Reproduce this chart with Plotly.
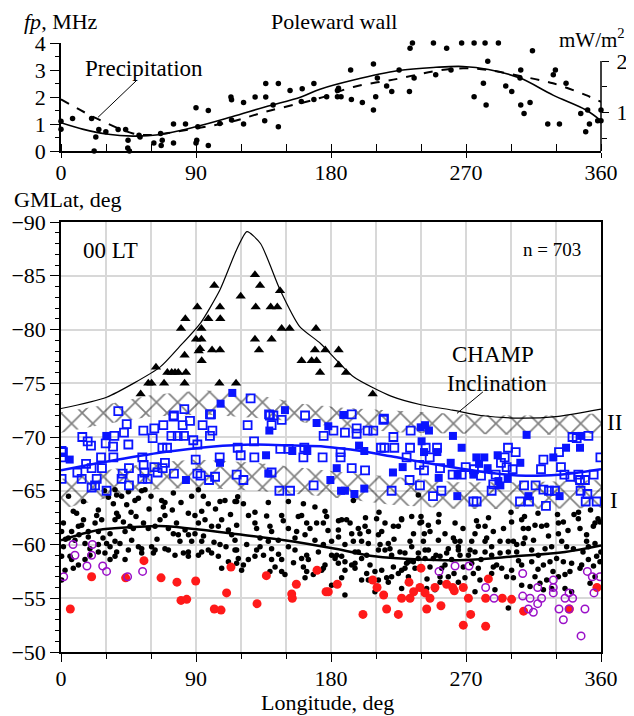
import plotly.graph_objects as go

# ---------------- DATA ----------------
# Top panel: fp (MHz) points vs longitude
top_pts = [(0,1.1),(0,0.81),(7.7,1.2),(20.4,1.2),(22.1,0.0),(23.2,0.52),(25.2,0.8),(29.9,0.71),(38.1,0.8),(43.1,0.8),
           (44.7,0.4),(44.5,0.11),(45.6,0.0),(52,0.58),(52.7,0.52),(61.9,0.3),(66.4,0.65),(66.8,0.2),(67.5,0.4),(75,0.3),
           (75,1.0),(83,1.0),(90,1.6),(90,0.3),(90.5,0.4),(91.2,0.9),(98.2,1.5),(98.2,0.2),(105.9,1.02),(113.3,2.0),
           (113.7,1.9),(113.7,1.15),(121.7,1.8),(121.7,1.0),(129.4,2.0),(136.5,2.5),(136.5,2.0),(135.8,1.12),(141.4,1.7),
           (144.9,2.5),(144.9,0.9),(152.7,2.24),(160.8,2.31),(160.2,1.83),(168.6,2.5),(168.6,1.91),(177.1,2.01),(184.3,2.01),
           (186.7,2.01),(184.3,2.24),(185,2.32),(193.1,3.0),(193.6,1.91),(200.9,1.8),(208.3,3.22),(208.3,1.52),(209.8,2.01),
           (210.9,2.7),(217.1,2.41),(220.5,2.2),(225.4,3.0),(232.3,2.2),(232.7,3.81),(234.3,4.0),(235.4,2.7),(248.3,4.0),
           (249.8,2.82),(257.1,3.81),(258.9,4.52),(260,3.0),(267.1,4.0),(275.4,4.0),(275.4,2.01),(281.6,2.51),(282.7,4.0),
           (283.4,1.7),(284.9,4.41),(284.5,3.32),(291.6,4.0),(296.5,2.41),(300.5,2.2),(306.5,3.0),(306,2.7),(306.5,1.7),
           (308.7,1.39),(312.7,1.8),(314.3,3.71),(324.5,1.0),(328.2,2.82),(329.6,3.0),(332.3,1.0),(336.7,2.51),(346.5,1.39),
           (349.8,0.71),(351.1,1.52),(352.3,1.0),(357.8,1.12),(360,1.12),(360,1.52)]
fp_fit_lon = [0, 15, 30, 48, 65, 90, 114, 136.5, 160, 172.7, 195, 225, 250, 268, 285, 306, 328, 350, 360]
fp_fit_val = [1.05, 0.8, 0.63, 0.55, 0.6, 0.9, 1.27, 1.64, 2.0, 2.29, 2.63, 2.98, 3.1, 3.13, 3.02, 2.7, 2.07, 1.52, 1.12]
prec_lon = [0, 23.7, 48, 59, 90, 114, 136.5, 172, 195, 225, 250, 268, 284, 306, 328, 350, 360]
prec_val = [1.26, 0.89, 0.6, 0.57, 0.7, 0.83, 1.02, 1.28, 1.5, 1.66, 1.81, 1.86, 1.83, 1.71, 1.57, 1.34, 1.21]

# Bottom panel
champ_lon = [0, 30.4, 66, 79, 93, 106, 117, 124, 133, 146, 159, 173, 195, 220, 240, 261, 280, 306, 330, 360]
champ_lat = [-72.65, -73.7, -76.5, -78.4, -80.6, -83.7, -87.4, -89.1, -88.0, -83.7, -80.3, -78.7, -75.6, -73.8, -73.0, -72.5, -72.0, -71.75, -71.9, -72.6]
blue_fit_lon = [0, 30, 69, 100, 129, 155, 176, 200, 220, 243, 265, 290, 310, 332, 345, 360]
blue_fit_lat = [-66.9, -67.7, -68.6, -69.1, -69.3, -69.2, -69.1, -68.7, -68.2, -67.6, -67.1, -66.6, -66.4, -66.5, -66.7, -67.0]
black_fit_lon = [0, 25, 45, 60, 70, 92, 118, 149, 183, 209, 239, 269, 303, 336, 360]
black_fit_lat = [-60.4, -61.35, -61.6, -61.7, -61.7, -61.4, -60.95, -60.4, -59.6, -58.9, -58.6, -58.55, -58.9, -59.3, -59.9]

bandII_lon = [0, 30, 60, 95, 128, 160, 190, 230, 270, 300, 330, 360]
bandII_top = [-72.3, -73.0, -73.9, -74.35, -74.0, -73.1, -72.7, -72.4, -72.1, -72.0, -72.0, -72.2]
bandII_bot = [-70.4, -71.2, -71.9, -72.1, -71.8, -71.4, -70.8, -70.4, -70.3, -70.2, -70.2, -70.3]
bandI_lon = [0, 30, 60, 90, 130, 175, 220, 265, 310, 360]
bandI_top = [-66.1, -66.9, -67.6, -67.9, -67.6, -66.9, -66.3, -65.8, -65.8, -66.0]
bandI_bot = [-63.3, -64.3, -65.1, -65.3, -65.0, -64.5, -63.7, -63.3, -63.3, -63.4]

triangles = [(129.3,-85.1),(132.7,-84.1),(119.8,-83.1),(146,-83.6),(102.2,-84.1),(90.9,-82.1),(106,-82.1),(129.8,-82.1),
             (139.8,-82.1),(144.2,-82.1),(82.9,-81.0),(98.2,-81.0),(106.2,-81.0),(80,-80.1),(93.6,-80.1),(147.1,-80.1),
             (152.4,-80.1),(170,-80.1),(90,-79.1),(93.6,-79.1),(129.3,-79.1),(140.4,-79.1),(92.7,-78.2),(91.8,-78.0),
             (100.7,-78.1),(106,-78.1),(132,-78.1),(169.3,-78.1),(176.2,-78.1),(185.1,-78.1),(82.4,-77.6),(93.8,-77.1),
             (160.4,-77.1),(167.1,-77.1),(170.4,-77.1),(185.1,-76.7),(63.3,-76.5),(70.9,-76.0),(73.8,-76.0),(76,-76.0),
             (78.2,-76.0),(83.3,-76.0),(172.7,-76.0),(190,-76.0),(58.2,-75.0),(60.4,-75.0),(68.7,-75.0),(82.4,-75.0),
             (105.6,-75.0),(116.7,-75.0),(53.1,-74.0),(207.8,-74.0)]

open_squares = [(38.2,-72.4),(82.2,-72.6),(74.9,-71.9),(86,-71.5),(43.8,-71.2),(81.1,-71.1),(94.4,-71.1),(100,-72.1),
    (68.2,-71.1),(62.2,-70.8),(54.9,-70.6),(42,-70.4),(35.6,-70.1),(100.9,-70.6),(73.6,-70.1),(77.8,-70.1),(82,-70.1),
    (61.1,-69.9),(14.2,-70.0),(17.8,-69.6),(20,-69.2),(29.8,-69.4),(34.7,-69.1),(44.9,-69.3),(88.2,-69.7),(99.3,-70.1),
    (128.7,-69.6),(117.8,-69.0),(67.6,-69.0),(70.7,-69.0),(90.9,-69.3),(1.3,-68.6),(0.4,-68.1),(26.7,-68.1),(34.9,-68.1),
    (54.2,-68.1),(55.1,-67.4),(69.3,-67.6),(105.8,-68.1),(119.8,-68.3),(128.9,-68.1),(146.2,-68.9),(151.8,-68.9),
    (161.6,-68.1),(162.2,-69.0),(174.4,-68.1),(175.1,-70.1),(124.4,-71.1),(140.4,-71.1),(139.3,-72.0),(141.6,-72.0),
    (147.1,-71.6),(162.7,-72.0),(16.7,-67.5),(10.9,-66.7),(20.4,-67.1),(27.3,-67.1),(45.3,-67.1),(62.2,-67.2),
    (64.4,-66.7),(67.8,-67.1),(75.3,-66.6),(90.9,-66.6),(89.8,-67.9),(93.1,-66.4),(98.7,-66.0),(102.7,-66.3),
    (117.1,-66.5),(121.6,-66.0),(140.4,-66.7),(168.4,-65.5),(152.7,-65.0),(145.6,-65.0),(0.4,-66.1),(13.8,-66.1),
    (23.8,-66.1),(20.4,-65.3),(22.7,-65.5),(30.4,-65.0),(40.4,-66.1),(45.3,-65.5),(54.2,-66.1),(57.8,-66.1),
    (55.6,-66.7),(41.1,-66.6),(126.4,-73.6),(75.3,-72.0),(99.3,-72.1),(138.7,-72.1),(193.8,-72.1),(215.3,-71.7),
    (181.6,-70.6),(189.3,-70.4),(197.1,-70.8),(197.1,-70.3),(204.4,-70.6),(208.2,-70.6),(214.9,-71.6),(221.6,-70.0),
    (233.1,-70.6),(213.3,-69.0),(215.6,-69.0),(222.2,-69.0),(232.7,-69.0),(243.1,-69.0),(250.7,-69.0),(245.8,-68.1),
    (230.4,-68.1),(238.9,-67.4),(242,-66.9),(252.7,-67.1),(186.4,-68.6),(186.4,-68.1),(193.8,-67.1),(202.7,-66.9),
    (232.4,-66.0),(239.3,-65.5),(220.4,-65.0),(248,-64.5),(253.6,-65.0),(269.8,-67.2),(275.3,-67.0),(280,-66.4),
    (261.1,-66.5),(267.1,-66.5),(289.8,-66.5),(293.3,-67.6),(295.8,-68.1),(298,-69.0),(303.1,-68.6),(297.1,-67.2),
    (301.1,-67.0),(288.2,-65.6),(287.1,-65.0),(308.7,-65.5),(316.4,-65.5),(321.6,-67.9),(320,-67.0),(321.6,-65.1),
    (325.3,-65.0),(329.3,-65.0),(333.3,-67.2),(332,-68.6),(335.6,-66.5),(339.6,-66.3),(344.9,-66.5),(346,-66.0),
    (349.3,-66.0),(355.1,-66.5),(359.6,-68.1),(343.8,-69.9),(351.6,-70.1),(346.4,-65.0),(350.9,-64.7),(349.8,-64.0),
    (357.1,-64.0),(274.9,-64.0),(277.1,-64.0),(306,-64.0),(312,-64.0),(323.3,-63.6),(341,-70.0),(0.4,-68.7)]

filled_squares = [(30.2,-70.1),(5.8,-67.9),(106.4,-73.1),(149.3,-72.5),(170.4,-71.3),(178.2,-71.0),(138.9,-70.6),
    (136.7,-68.3),(106,-67.6),(154.2,-68.7),(164.2,-68.7),(83.3,-66.0),(138.2,-66.6),(179.6,-66.0),(114.2,-74.1),
    (188.2,-72.05),(239.8,-70.9),(242.7,-71.1),(245.3,-70.6),(261.3,-70.1),(240.4,-69.6),(242,-68.6),(250.9,-68.6),
    (267.1,-69.0),(198.7,-69.2),(202.2,-68.7),(183.8,-67.1),(221.3,-66.7),(227.8,-67.2),(259.8,-67.6),(276.9,-68.1),
    (282.2,-68.1),(278.7,-67.5),(274.9,-66.5),(264.4,-66.5),(284.4,-67.1),(291.1,-68.3),(297.8,-66.1),(291.6,-65.9),
    (292.9,-65.5),(306.2,-67.6),(251.8,-66.2),(186.7,-65.0),(189.3,-65.0),(195.6,-64.7),(202.2,-65.2),(264.2,-64.5),
    (311.6,-64.5),(332.4,-64.5),(328.2,-68.1),(336.7,-69.0),(346,-69.0),(346.7,-70.1),(310.4,-70.2)]

black_dots = [
    (36,-65.1),(37.1,-64.6),(31.6,-64.4),(40.4,-64.5),(44.9,-64.9),(53.8,-65.0),(56,-65.1),(51.6,-64.3),(43.8,-63.7),
    (46.7,-63.0),(34.9,-63.8),(24.9,-63.2),(23.8,-62.7),(22.7,-62.0),(27.1,-62.3),(36,-62.3),(41.6,-62.1),(37.1,-62.9),
    (38.2,-62.6),(49.3,-64.1),(67.1,-64.1),(68.2,-63.5),(69.3,-63.9),(74.9,-64.8),(87.1,-64.5),(91.6,-65.1),(94.9,-64.5),
    (98.2,-63.8),(106,-64.0),(109.3,-64.1),(116,-64.0),(117.8,-64.45),(58.7,-63.3),(69.3,-62.7),(74.2,-63.2),(84.9,-62.9),
    (89.3,-62.7),(93.8,-63.1),(1.6,-62.0),(8.2,-63.1),(10.4,-62.9),(11.6,-61.7),(13.8,-61.8),(0.4,-61.2),(7.1,-61.2),
    (18.2,-61.2),(18.2,-60.7),(24.9,-61.2),(32.7,-61.0),(42.7,-61.2),(46,-61.7),(48.2,-61.5),(58.2,-61.5),(62.7,-61.7),
    (71.6,-61.5),(74.9,-61.0),(78.2,-60.9),(82.7,-61.35),(89.3,-61.0),(91.6,-62.0),(96,-62.3),(100.4,-61.7),(104.9,-61.7),
    (107.1,-62.3),(111.6,-61.35),(113.8,-60.9),(116,-60.4),(106,-60.0),(93.8,-60.3),(87.1,-60.3),(79.3,-60.3),(69.3,-59.6),
    (62.7,-59.5),(60.4,-59.8),(53.8,-59.6),(47.1,-60.4),(36,-60.3),(32.7,-59.8),(39.3,-60.1),(30.4,-60.1),(24.9,-60.0),
    (19.3,-59.6),(16,-60.1),(9.3,-60.4),(4.9,-60.6),(0.4,-58.9),(6,-58.9),(7.1,-58.6),(8.2,-57.8),(11.6,-58.1),(16,-58.6),
    (19.3,-59.0),(24.9,-59.3),(29.3,-59.2),(37.1,-59.3),(44.9,-59.5),(53.8,-59.2),(61.6,-59.2),(76,-59.0),(81.6,-59.2),
    (84.9,-58.9),(91.6,-59.0),(93.8,-59.3),(98.2,-59.5),(100.4,-59.2),(104.9,-58.9),(107.1,-57.8),(111.6,-58.4),
    (116,-59.5),(117.1,-58.25),(84.9,-59.3),(36,-58.9),(71.6,-59.5),(51.6,-59.8),(42.7,-58.6),(32.7,-58.6),(2.7,-57.6),
    (0.4,-56.7),(1.6,-59.8),
    (117.1,-64.0),(121.6,-63.8),(138.2,-63.9),(129.3,-63.0),(137.1,-62.65),(147.1,-62.7),(151.6,-64.0),(160.4,-62.7),
    (161.6,-63.8),(169.3,-63.5),(176,-63.1),(170.4,-62.0),(174.9,-62.0),(163.8,-62.0),(148.2,-62.2),(139.3,-61.7),
    (140.4,-61.2),(129.3,-62.0),(130.4,-61.5),(117.1,-61.8),(123.8,-60.0),(117.1,-59.5),(118.2,-58.7),(124.9,-58.6),
    (121.6,-58.1),(120.4,-57.6),(129.3,-58.9),(130.4,-59.5),(132.7,-60.6),(132.7,-59.8),(138.2,-60.3),(140.4,-59.6),
    (144.9,-60.4),(151.6,-59.8),(151.6,-61.5),(157.1,-61.2),(156,-60.6),(162.7,-60.9),(169.3,-60.4),(163.8,-59.0),
    (164.9,-58.6),(161.6,-57.9),(171.6,-59.3),(174.9,-60.0),(180.4,-60.3),(184.9,-61.35),(187.1,-62.3),(192.7,-62.0),
    (193.8,-61.0),(198.2,-61.5),(199.3,-61.0),(200.4,-60.3),(202.7,-61.7),(204.9,-60.1),(194.9,-60.3),(189.3,-60.0),
    (184.9,-58.25),(189.3,-58.4),(187.1,-58.9),(193.8,-58.1),(196,-57.8),(183.8,-59.0),(176,-58.1),(173.8,-57.6),
    (180.4,-59.0),(140.4,-58.6),(142.7,-57.9),(139.3,-57.5),(147.1,-57.5),(149.3,-57.2),(147.1,-58.6),(160.4,-58.7),
    (156,-59.5),(163.8,-57.5),(162.7,-56.9),(168.2,-57.2),(174.9,-57.8),(182.7,-58.7),(189.3,-57.6),(187.1,-56.9),
    (189.3,-55.3),(180.4,-56.2),(196,-58.25),(198.2,-59.3),(203.8,-59.0),(211.6,-59.5),(216,-59.5),(219.3,-59.6),
    (220.4,-59.0),(226,-59.3),(229.3,-59.2),(218.2,-60.1),(212.7,-60.0),(210.4,-62.4),(216,-62.0),(221.6,-61.7),
    (224.9,-61.7),(227.1,-62.3),(232.7,-60.3),(233.8,-59.8),(231.6,-58.4),(229.3,-57.8),(234.9,-58.4),(236,-57.8),
    (238.2,-59.2),(221.6,-57.9),(224.9,-57.3),(227.1,-57.6),(217.1,-56.9),(218.2,-56.5),(220.4,-57.0),(200.4,-56.7),
    (204.9,-56.7),(209.3,-55.6),(216,-55.3),(213.8,-57.6),(206,-58.1),(209.3,-57.5),(203.8,-57.3),(211.6,-56.7),
    (227.1,-55.9),(230.4,-58.25),(231.6,-57.0),(239.3,-62.0),(233.8,-62.6),(238.2,-64.6),(190.4,-62.3),(194.9,-64.1),
    (200.4,-58.7),(213.8,-61.2),(211.6,-60.9),(158.2,-62.6),
    (240.4,-62.1),(244.9,-61.8),(251.6,-62.1),(262.7,-62.0),(246,-61.2),(242.2,-61.0),(241.6,-60.3),(242.7,-59.5),
    (244.9,-59.5),(251.6,-60.4),(258.2,-59.6),(257.1,-59.2),(261.6,-60.6),(262.7,-60.3),(266,-60.3),(264.9,-59.5),
    (273.8,-60.3),(276,-61.0),(278.2,-61.7),(282.7,-61.7),(288.2,-61.2),(283.8,-60.6),(282.7,-60.3),(287.1,-59.8),
    (292.7,-60.3),(298.2,-60.3),(301.6,-60.3),(300.4,-62.1),(308.2,-61.5),(307.1,-62.3),(311.6,-61.5),(316,-61.8),
    (320.4,-61.7),(323.8,-61.8),(331.6,-62.0),(334.9,-62.1),(344.9,-62.4),(346,-61.5),(350.4,-60.9),(356,-62.0),
    (354.9,-61.7),(359.3,-62.1),(350.4,-60.3),(351.6,-59.8),(356,-60.1),(341.6,-59.6),(337.1,-59.8),(333.8,-60.3),
    (331.6,-61.0),(327.1,-59.8),(322.7,-59.6),(318.2,-59.0),(313.8,-59.5),(308.2,-60.1),(303.8,-60.0),(309.3,-60.6),
    (303.8,-59.3),(298.2,-59.3),(292.7,-59.2),(287.1,-59.0),(282.7,-59.3),(276,-59.3),(271.6,-59.0),(266,-59.0),
    (260.4,-58.6),(252.7,-58.9),(248.2,-58.7),(242.7,-58.7),(238.2,-58.7),(239.3,-57.8),(246,-57.9),(253.8,-57.8),
    (258.2,-57.0),(256,-58.1),(268.2,-57.9),(273.8,-58.25),(278.2,-57.8),(274.9,-57.3),(269.3,-56.9),(279.3,-56.7),
    (287.1,-57.3),(290.4,-58.1),(293.8,-57.8),(300.4,-57.6),(301.6,-56.9),(297.1,-57.0),(307.1,-58.1),(313.8,-58.4),
    (321.6,-58.1),(326,-58.4),(330.4,-58.7),(334.9,-58.4),(340.4,-58.25),(347.1,-58.1),(351.6,-58.6),(357.1,-58.9),
    (359.3,-58.4),(359.9,-59.3),(346,-57.8),(339.3,-57.5),(331.6,-57.0),(323.8,-56.7),(319.3,-56.4),(312.7,-56.1),
    (316,-57.0),(327.1,-55.9),(336,-55.9),(340.4,-55.6),(321.6,-55.8),(307.1,-56.2),(289.3,-55.8),(276,-55.6),
    (264.9,-56.5),(252.7,-56.5),(249.3,-55.8),(243.8,-55.9),(352.7,-56.4),(356,-57.0),(298.2,-54.1),(264.9,-59.8),
    (272.7,-59.5),(288.2,-57.9),(252.7,-57.0),
    (177.1,-62.6),(185,-62.2),(203,-62.5),(212,-63.0),(227,-62.4),(240,-62.6),(252,-62.8),(277,-62.2),(300,-63.0),
    (309,-62.6),(331,-62.8),(345,-63.0),(358,-62.4),(3,-60.5),(12,-60.9),(15,-62.3),(28,-60.6),(50,-62.6),(55,-62.0),
    (64,-60.5),(66,-62.3),(77,-62.0),(85,-60.9),(95,-60.8),(102,-60.2),(110,-59.8),(113,-62.8),(103,-63.3),(60,-64.5),
    (80,-63.9),(29,-65.0),(15,-64.0),(5,-64.5),(125,-62.7),(135,-59.0),(145,-59.1),(155,-58.3),(166,-61.5),(178,-61.3),
    (185,-60.7),(196,-59.3),(205,-61.2),(222,-60.5),(235,-61.0),(250,-59.0),(256,-61.0),(268,-61.5),(280,-58.6),
    (285,-62.5),(295,-61.5),(305,-58.5),(315,-60.4),(318,-62.9),(325,-60.8),(338,-61.3),(342,-62.8),(348,-59.3),
    (353,-63.2),(355,-58.0),(336,-57.2),(328,-57.5),(318,-57.7),(262,-57.3),(244,-56.8)]

red_circles = [(55.3,-58.5),(20.4,-57.0),(43.1,-56.9),(66.7,-56.9),(77.3,-56.5),(89.8,-56.6),(80,-54.8),(83.8,-54.9),
    (110.4,-55.5),(113.3,-57.9),(6.2,-54.0),(102.2,-54.0),(106.7,-53.9),(136.9,-57.1),(170.7,-57.6),(156.9,-56.3),
    (153.8,-55.4),(154.2,-55.0),(176.7,-55.6),(178.2,-55.6),(184.2,-56.3),(207.8,-56.7),(210.7,-56.0),(215.1,-55.3),
    (232,-56.5),(235.1,-55.6),(232.7,-55.0),(227.1,-55.0),(239.3,-56.0),(240,-57.8),(130.7,-54.5),(201.3,-53.5),
    (217.1,-54.0),(224.9,-53.5),(242.7,-55.5),(246,-55.0),(249.3,-56.0),(257.1,-56.3),(261.1,-56.0),(262.2,-55.7),
    (268.2,-56.0),(271.6,-55.0),(243.8,-54.0),(253.3,-54.3),(284.9,-56.8),(283.1,-55.0),(294.2,-55.0),(300.4,-54.9),
    (273.1,-53.5),(268.2,-52.5),(283.1,-52.4),(308.4,-53.8),(338.9,-54.0),(357.3,-56.0)]

purple_circles = [(8,-60.0),(20.9,-60.0),(9.3,-59.0),(20.4,-59.0),(17.3,-58.0),(27.8,-58.0),(30.4,-57.5),(1.8,-57.0),
    (44.4,-57.0),(54.4,-57.5),(252,-57.5),(262.7,-58.0),(272,-58.0),(283.1,-56.0),(288.7,-55.0),(307.8,-57.3),
    (307.8,-55.2),(312.7,-55.0),(317.8,-56.0),(320.4,-55.0),(317.8,-54.5),(311.6,-54.0),(314.9,-53.7),(328.2,-56.7),
    (328.2,-56.0),(328.2,-55.5),(332,-54.0),(334.9,-53.0),(338.7,-55.5),(341.1,-55.0),(336,-55.0),(349.3,-54.0),
    (338.7,-54.0),(346.7,-51.5),(350.9,-57.5),(354.2,-57.0),(359.3,-57.0),(355.3,-55.5)]

lon_ticks = [0, 90, 180, 270, 360]

# ---------------- FIGURE ----------------
# The page body has an 8 px margin, so the figure is sized and positioned to compensate.
OFF = 8
W, H = 634 - OFF, 716 - OFF
FONT = "Liberation Serif"

def fx(p):
    return (p - OFF) / W

def fy(p):
    return 1 - (p - OFF) / H

xdom = [fx(61), fx(601)]
top_dom = [fy(151), fy(43)]
bot_dom = [fy(652), fy(222)]

def unzip(pts):
    return [p[0] for p in pts], [p[1] for p in pts]

fig = go.Figure()

# hatched bands
for lon, top, bot in [(bandII_lon, bandII_top, bandII_bot), (bandI_lon, bandI_top, bandI_bot)]:
    fig.add_trace(go.Scatter(
        x=lon + lon[::-1], y=top + bot[::-1], xaxis="x2", yaxis="y2",
        fill="toself", mode="lines", line=dict(width=0), fillcolor="rgba(0,0,0,0)",
        fillpattern=dict(shape="x", size=15, solidity=0.21, fgcolor="black", bgcolor="rgba(0,0,0,0)"),
        hoverinfo="skip", showlegend=False))

# top panel
tx, ty = unzip(top_pts)
fig.add_trace(go.Scatter(x=tx, y=ty, mode="markers", xaxis="x", yaxis="y", cliponaxis=False,
                         marker=dict(size=5.5, color="black"), showlegend=False))
fig.add_trace(go.Scatter(x=fp_fit_lon, y=fp_fit_val, mode="lines", xaxis="x", yaxis="y",
                         line=dict(color="black", width=1.6, shape="spline"), showlegend=False))
fig.add_trace(go.Scatter(x=prec_lon, y=prec_val, mode="lines", xaxis="x", yaxis="y3",
                         line=dict(color="black", width=2, dash="dash", shape="spline"), showlegend=False))

# bottom panel points
bx, by = unzip(black_dots)
fig.add_trace(go.Scatter(x=bx, y=by, mode="markers", xaxis="x2", yaxis="y2",
                         marker=dict(size=5.5, color="black"), showlegend=False))
rx, ry = unzip(red_circles)
fig.add_trace(go.Scatter(x=rx, y=ry, mode="markers", xaxis="x2", yaxis="y2",
                         marker=dict(size=9, color="#ff1a1a"), showlegend=False))
px_, py_ = unzip(purple_circles)
fig.add_trace(go.Scatter(x=px_, y=py_, mode="markers", xaxis="x2", yaxis="y2",
                         marker=dict(size=7.5, symbol="circle-open", color="#9a10c8", line=dict(width=1.5)), showlegend=False))
ox, oy = unzip(open_squares)
fig.add_trace(go.Scatter(x=ox, y=oy, mode="markers", xaxis="x2", yaxis="y2",
                         marker=dict(size=8, symbol="square-open", color="#0a14ff", line=dict(width=1.8)), showlegend=False))
fqx, fqy = unzip(filled_squares)
fig.add_trace(go.Scatter(x=fqx, y=fqy, mode="markers", xaxis="x2", yaxis="y2",
                         marker=dict(size=8, symbol="square", color="#0a14ff"), showlegend=False))
trx, tr_y = unzip(triangles)
fig.add_trace(go.Scatter(x=trx, y=tr_y, mode="markers", xaxis="x2", yaxis="y2",
                         marker=dict(size=9, symbol="triangle-up", color="black"), showlegend=False))

# curves
fig.add_trace(go.Scatter(x=champ_lon, y=champ_lat, mode="lines", xaxis="x2", yaxis="y2",
                         line=dict(color="black", width=1.2, shape="spline", smoothing=0.6), showlegend=False))
fig.add_trace(go.Scatter(x=blue_fit_lon, y=blue_fit_lat, mode="lines", xaxis="x2", yaxis="y2",
                         line=dict(color="#0a14ff", width=2.5, shape="spline"), showlegend=False))
fig.add_trace(go.Scatter(x=black_fit_lon, y=black_fit_lat, mode="lines", xaxis="x2", yaxis="y2",
                         line=dict(color="black", width=2.5, shape="spline"), showlegend=False))

tickfont = dict(family=FONT, size=22, color="black")
axis_common = dict(showline=True, linecolor="black", linewidth=1.5, zeroline=False, tickcolor="black",
                   tickfont=tickfont, automargin=False)

fig.update_layout(
    width=W, height=H, autosize=False,
    margin=dict(l=0, r=0, t=0, b=0),
    paper_bgcolor="white", plot_bgcolor="white",
    font=dict(family=FONT, color="black"),
    xaxis=dict(domain=xdom, anchor="y", range=[0, 360], tickmode="array", tickvals=lon_ticks,
               ticks="outside", ticklen=5, showgrid=False, ticklabelstandoff=-4,
               minor=dict(tickmode="linear", tick0=0, dtick=30, ticks="inside", ticklen=7, tickcolor="black"),
               **axis_common),
    yaxis=dict(domain=top_dom, anchor="x", range=[0, 4], dtick=1, ticks="outside", ticklen=9, showgrid=False,
               minor=dict(dtick=0.5, ticks="outside", ticklen=4, tickcolor="black"), **axis_common),
    yaxis3=dict(overlaying="y", side="right", anchor="x", range=[0.26, 2.35], tickmode="array", tickvals=[1, 2],
                ticks="outside", ticklen=7, showgrid=False, showline=False, zeroline=False, tickcolor="black",
                tickfont=tickfont, automargin=False, ticklabelstandoff=3,
                minor=dict(tickmode="array", tickvals=[0.5, 1.5], ticks="outside", ticklen=5, tickcolor="black")),
    xaxis2=dict(domain=xdom, anchor="y2", range=[0, 360], tickmode="array", tickvals=lon_ticks,
                ticks="outside", ticklen=8, showgrid=True, gridcolor="#d8d8d8", gridwidth=1.5, mirror=True,
                ticklabelstandoff=-2,
                minor=dict(tickmode="linear", tick0=0, dtick=30, ticks="outside", ticklen=5, tickcolor="black",
                           showgrid=True, gridcolor="#d8d8d8", gridwidth=1.5),
                **axis_common),
    yaxis2=dict(domain=bot_dom, anchor="x2", range=[-50, -90], dtick=5, tick0=-90, ticks="outside", ticklen=9,
                showgrid=True, gridcolor="#d8d8d8", gridwidth=1.5, mirror=True,
                minor=dict(dtick=1, ticks="outside", ticklen=4, tickcolor="black", showgrid=False),
                **axis_common),
)

# right axis line (drawn from bottom to value 2)
fig.add_shape(type="line", xref="paper", yref="y3", x0=xdom[1], x1=xdom[1], y0=0.26, y1=2.0,
              line=dict(color="black", width=1.5))
# leader lines
fig.add_shape(type="line", xref="x", yref="y", x0=50.7, y0=2.63, x1=24.7, y1=1.25, line=dict(color="black", width=1))
fig.add_shape(type="line", xref="x2", yref="y2", x0=281.3, y0=-74.2, x1=264, y1=-72.2, line=dict(color="black", width=1))

def ann(text, x, y, size=23, xanchor="center"):
    fig.add_annotation(text=text, x=fx(x), y=fy(y), xref="paper", yref="paper", showarrow=False,
                       xanchor=xanchor, yanchor="middle", font=dict(family=FONT, size=size, color="black"))

ann("<i>fp</i>, MHz", 22, 22, size=22, xanchor="left")
ann("Poleward wall", 334, 22, size=22)
ann("mW/m<sup>2</sup>", 627, 38, size=21, xanchor="right")
ann("Precipitation", 144, 68)
ann("GMLat, deg", 12, 199, size=22, xanchor="left")
ann("00 LT", 110, 250)
ann("n = 703", 552, 249, size=19)
ann("CHAMP", 493, 355)
ann("Inclination", 497, 383)
ann("II", 614, 423)
ann("I", 614, 500)
ann("Longitude, deg", 327, 702, size=22)

fig.write_html("out.html")
